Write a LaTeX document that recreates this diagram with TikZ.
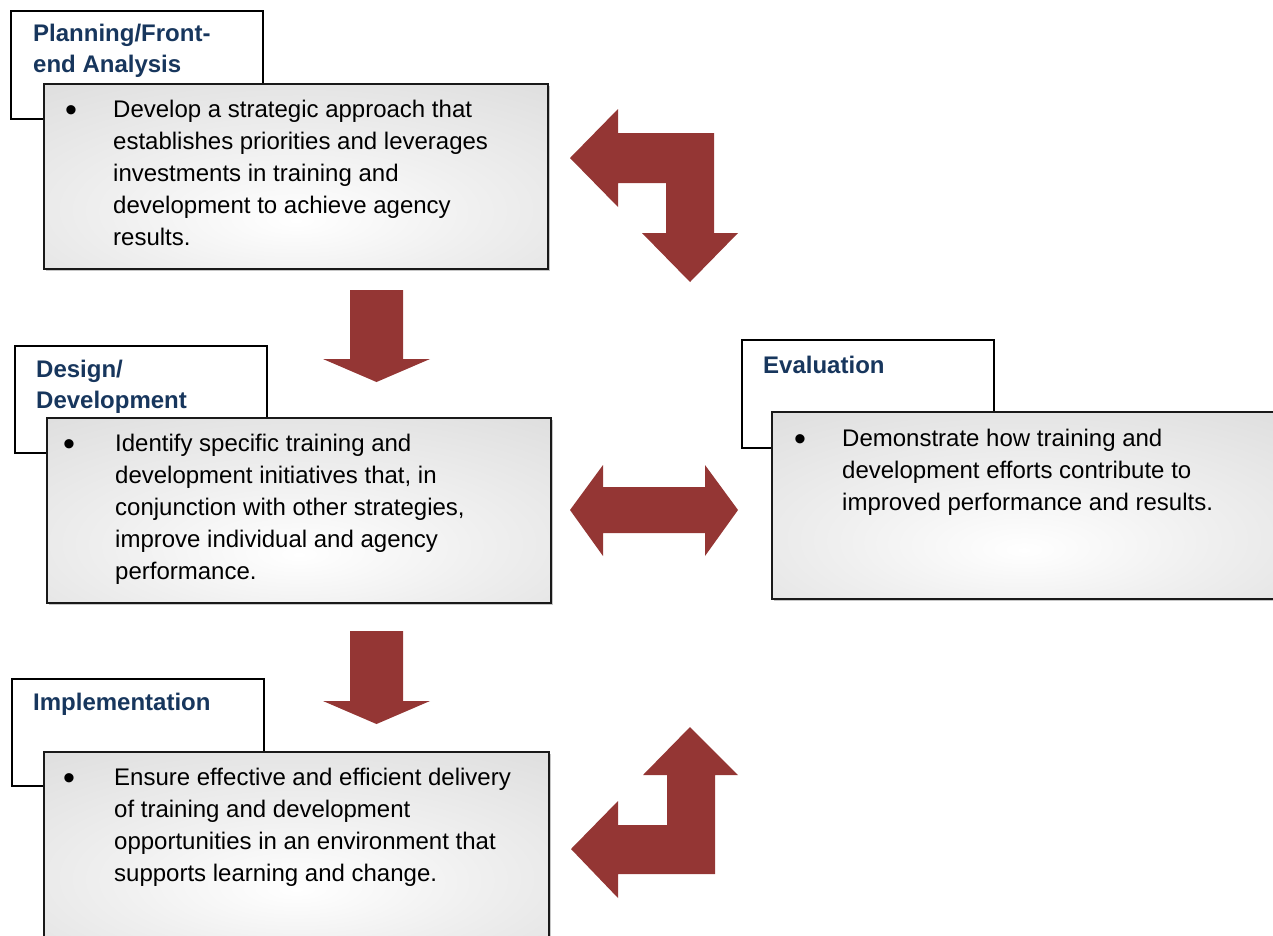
\documentclass[tikz,border=0pt]{standalone}
\usepackage{fontspec}
\setmainfont{Liberation Sans}
\usetikzlibrary{shadows}
\definecolor{arrowred}{HTML}{943634}
\definecolor{headblue}{RGB}{23,54,93}
% soft light spot slightly below the middle of each content panel
\pgfdeclareradialshading{boxglow}{\pgfpoint{0bp}{-12bp}}{color(0bp)=(white); color(18bp)=(white!94!black); color(48bp)=(gray!30); color(90bp)=(gray!30)}
\begin{document}
\begin{tikzpicture}[x=1pt,y=-1pt,
  headbox/.style={draw=black, line width=1.5pt, fill=white, inner sep=0pt, anchor=north west},
  bodybox/.style={draw=black!90, line width=2pt, shading=boxglow, anchor=north west, inner sep=0pt,
    general shadow={shadow xshift=1.5pt, shadow yshift=-1.5pt, fill=gray!45}},
  % multi-line texts are placed by the baseline of their last line
  headtext/.style={anchor=base west, inner sep=0pt, align=left, text=headblue,
    font=\fontsize{24}{31.5}\selectfont\bfseries},
  bodytext/.style={anchor=base west, inner sep=0pt, align=left, font=\fontsize{24}{32}\selectfont},
  bulletmark/.style={anchor=center, inner sep=0pt, font=\fontsize{34}{34}\selectfont},
  blockarrow/.style={fill=arrowred, draw=none}]
\useasboundingbox (0,0) rectangle (1273,935);

% Planning / Front-end Analysis
\node[headbox, minimum width=252pt, minimum height=108pt] (t1) at (10,10) {};
\node[headtext] (t1txt) at (33,72.5) {Planning/Front-\\end Analysis};
\node[bodybox, minimum width=504pt, minimum height=185pt] (b1) at (43,83) {};
\node[bulletmark] (b1dot) at (71,114) {\textbullet};
\node[bodytext] (b1txt) at (113,245) {Develop a strategic approach that\\establishes priorities and leverages\\investments in training and\\development to achieve agency\\results.};

% Design / Development
\node[headbox, minimum width=252pt, minimum height=107pt] (t2) at (14,345) {};
\node[headtext] (t2txt) at (36,408.5) {Design/\\Development};
\node[bodybox, minimum width=504pt, minimum height=185pt] (b2) at (46,417) {};
\node[bulletmark] (b2dot) at (69,448) {\textbullet};
\node[bodytext] (b2txt) at (115,579) {Identify specific training and\\development initiatives that, in\\conjunction with other strategies,\\improve individual and agency\\performance.};

% Implementation
\node[headbox, minimum width=252pt, minimum height=107pt] (t3) at (11,678) {};
\node[headtext] (t3txt) at (33,710) {Implementation};
\node[bodybox, minimum width=505pt, minimum height=186pt] (b3) at (43,751) {};
\node[bulletmark] (b3dot) at (69,782) {\textbullet};
\node[bodytext] (b3txt) at (114,881) {Ensure effective and efficient delivery\\of training and development\\opportunities in an environment that\\supports learning and change.};

% Evaluation
\node[headbox, minimum width=252pt, minimum height=108pt] (t4) at (741,339) {};
\node[headtext] (t4txt) at (763,373) {Evaluation};
\node[bodybox, minimum width=504pt, minimum height=187pt] (b4) at (771,411) {};
\node[bulletmark] (b4dot) at (800,443) {\textbullet};
\node[bodytext] (b4txt) at (842,510) {Demonstrate how training and\\development efforts contribute to\\improved performance and results.};

% block arrows
\fill[blockarrow] (570,158) -- (618,109) -- (618,133) -- (714,133) -- (714,233) -- (738,233)
  -- (690,282) -- (642,233) -- (666,233) -- (666,183) -- (618,183) -- (618,207) -- cycle;
\fill[blockarrow] (350,290) -- (403,290) -- (403,359) -- (430,359) -- (376.5,382) -- (323,359)
  -- (350,359) -- cycle;
\fill[blockarrow] (350,631) -- (403,631) -- (403,701) -- (430,701) -- (376.5,724) -- (323,701)
  -- (350,701) -- cycle;
\fill[blockarrow] (570,510) -- (603,465) -- (603,487) -- (705,487) -- (705,465) -- (738,510)
  -- (705,556) -- (705,533) -- (603,533) -- (603,556) -- cycle;
\fill[blockarrow] (690,727) -- (738,775) -- (715,775) -- (715,874) -- (618,874) -- (618,898)
  -- (571,849) -- (618,801) -- (618,825) -- (667,825) -- (667,775) -- (643,775) -- cycle;
\end{tikzpicture}
\end{document}
